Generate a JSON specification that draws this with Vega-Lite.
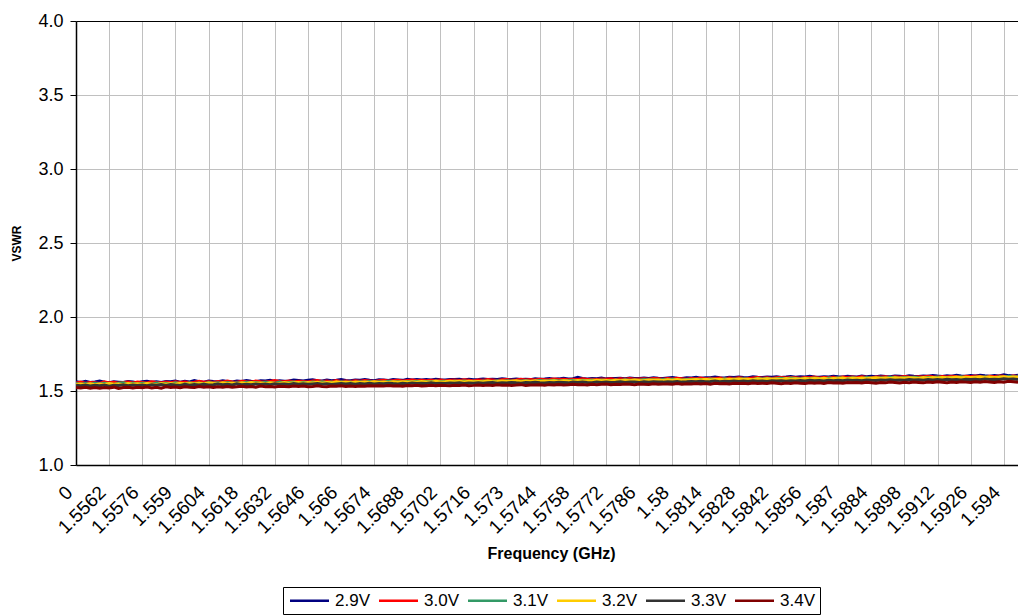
{
"$schema": "https://vega.github.io/schema/vega-lite/v6.json",
"width": 942,
"height": 444,
"autosize": "none",
"padding": {"left": 76, "top": 21, "right": 0, "bottom": 150},
"config": {"view": {"stroke": null}, "font": "Liberation Sans", "background": "white"},
"data": {"values": [
{"f":"0","a":1.562,"b":1.554,"c":1.550,"d":1.544,"e":1.539,"g":1.524},
{"f":"1.555","a":1.558,"b":1.560,"c":1.546,"d":1.547,"e":1.535,"g":1.520},
{"f":"1.5552","a":1.565,"b":1.553,"c":1.551,"d":1.543,"e":1.540,"g":1.525},
{"f":"1.5554","a":1.557,"b":1.558,"c":1.545,"d":1.549,"e":1.534,"g":1.519},
{"f":"1.5556","a":1.561,"b":1.556,"c":1.552,"d":1.542,"e":1.538,"g":1.523},
{"f":"1.5558","a":1.567,"b":1.551,"c":1.547,"d":1.548,"e":1.536,"g":1.518},
{"f":"1.556","a":1.559,"b":1.562,"c":1.553,"d":1.544,"e":1.541,"g":1.524},
{"f":"1.5562","a":1.556,"b":1.555,"c":1.549,"d":1.550,"e":1.533,"g":1.521},
{"f":"1.5564","a":1.563,"b":1.559,"c":1.544,"d":1.545,"e":1.539,"g":1.526},
{"f":"1.5566","a":1.560,"b":1.552,"c":1.552,"d":1.547,"e":1.537,"g":1.517},
{"f":"1.5568","a":1.557,"b":1.558,"c":1.555,"d":1.543,"e":1.542,"g":1.523},
{"f":"1.557","a":1.564,"b":1.561,"c":1.548,"d":1.551,"e":1.535,"g":1.526},
{"f":"1.5572","a":1.561,"b":1.555,"c":1.552,"d":1.546,"e":1.540,"g":1.520},
{"f":"1.5574","a":1.555,"b":1.560,"c":1.547,"d":1.549,"e":1.538,"g":1.525},
{"f":"1.5576","a":1.562,"b":1.557,"c":1.553,"d":1.544,"e":1.541,"g":1.522},
{"f":"1.5578","a":1.566,"b":1.554,"c":1.550,"d":1.550,"e":1.536,"g":1.527},
{"f":"1.558","a":1.560,"b":1.563,"c":1.546,"d":1.547,"e":1.542,"g":1.521},
{"f":"1.5582","a":1.563,"b":1.558,"c":1.554,"d":1.543,"e":1.539,"g":1.525},
{"f":"1.5584","a":1.558,"b":1.555,"c":1.549,"d":1.551,"e":1.544,"g":1.519},
{"f":"1.5586","a":1.564,"b":1.561,"c":1.553,"d":1.546,"e":1.537,"g":1.528},
{"f":"1.5588","a":1.562,"b":1.556,"c":1.548,"d":1.550,"e":1.543,"g":1.524},
{"f":"1.559","a":1.567,"b":1.563,"c":1.555,"d":1.546,"e":1.540,"g":1.527},
{"f":"1.5592","a":1.559,"b":1.558,"c":1.551,"d":1.553,"e":1.538,"g":1.522},
{"f":"1.5594","a":1.565,"b":1.561,"c":1.547,"d":1.548,"e":1.545,"g":1.529},
{"f":"1.5596","a":1.561,"b":1.557,"c":1.556,"d":1.551,"e":1.539,"g":1.525},
{"f":"1.5598","a":1.570,"b":1.560,"c":1.550,"d":1.547,"e":1.544,"g":1.523},
{"f":"1.56","a":1.563,"b":1.566,"c":1.554,"d":1.552,"e":1.541,"g":1.530},
{"f":"1.5602","a":1.560,"b":1.559,"c":1.549,"d":1.548,"e":1.546,"g":1.526},
{"f":"1.5604","a":1.568,"b":1.562,"c":1.557,"d":1.554,"e":1.540,"g":1.528},
{"f":"1.5606","a":1.564,"b":1.558,"c":1.552,"d":1.550,"e":1.543,"g":1.524},
{"f":"1.5608","a":1.562,"b":1.564,"c":1.555,"d":1.548,"e":1.547,"g":1.529},
{"f":"1.561","a":1.569,"b":1.560,"c":1.551,"d":1.555,"e":1.542,"g":1.526},
{"f":"1.5612","a":1.565,"b":1.567,"c":1.558,"d":1.550,"e":1.545,"g":1.531},
{"f":"1.5614","a":1.561,"b":1.561,"c":1.553,"d":1.553,"e":1.540,"g":1.525},
{"f":"1.5616","a":1.567,"b":1.559,"c":1.556,"d":1.549,"e":1.548,"g":1.528},
{"f":"1.5618","a":1.564,"b":1.566,"c":1.552,"d":1.555,"e":1.543,"g":1.532},
{"f":"1.562","a":1.571,"b":1.562,"c":1.559,"d":1.551,"e":1.546,"g":1.527},
{"f":"1.5622","a":1.566,"b":1.560,"c":1.554,"d":1.557,"e":1.542,"g":1.530},
{"f":"1.5624","a":1.563,"b":1.568,"c":1.557,"d":1.552,"e":1.548,"g":1.526},
{"f":"1.5626","a":1.569,"b":1.563,"c":1.553,"d":1.554,"e":1.544,"g":1.533},
{"f":"1.5628","a":1.567,"b":1.561,"c":1.559,"d":1.550,"e":1.547,"g":1.529},
{"f":"1.563","a":1.573,"b":1.565,"c":1.555,"d":1.556,"e":1.543,"g":1.531},
{"f":"1.5632","a":1.565,"b":1.570,"c":1.552,"d":1.553,"e":1.549,"g":1.527},
{"f":"1.5634","a":1.570,"b":1.564,"c":1.560,"d":1.551,"e":1.545,"g":1.532},
{"f":"1.5636","a":1.566,"b":1.562,"c":1.555,"d":1.557,"e":1.548,"g":1.530},
{"f":"1.5638","a":1.568,"b":1.567,"c":1.558,"d":1.553,"e":1.544,"g":1.528},
{"f":"1.564","a":1.575,"b":1.563,"c":1.561,"d":1.555,"e":1.550,"g":1.533},
{"f":"1.5642","a":1.571,"b":1.566,"c":1.556,"d":1.558,"e":1.546,"g":1.530},
{"f":"1.5644","a":1.567,"b":1.564,"c":1.559,"d":1.552,"e":1.549,"g":1.534},
{"f":"1.5646","a":1.573,"b":1.561,"c":1.555,"d":1.557,"e":1.545,"g":1.529},
{"f":"1.5648","a":1.576,"b":1.568,"c":1.560,"d":1.554,"e":1.548,"g":1.531},
{"f":"1.565","a":1.570,"b":1.571,"c":1.557,"d":1.559,"e":1.550,"g":1.535},
{"f":"1.5652","a":1.568,"b":1.565,"c":1.562,"d":1.553,"e":1.546,"g":1.530},
{"f":"1.5654","a":1.574,"b":1.567,"c":1.558,"d":1.557,"e":1.549,"g":1.528},
{"f":"1.5656","a":1.569,"b":1.563,"c":1.561,"d":1.555,"e":1.544,"g":1.533},
{"f":"1.5658","a":1.572,"b":1.570,"c":1.556,"d":1.562,"e":1.548,"g":1.532},
{"f":"1.566","a":1.577,"b":1.565,"c":1.563,"d":1.556,"e":1.551,"g":1.535},
{"f":"1.5662","a":1.571,"b":1.568,"c":1.559,"d":1.559,"e":1.547,"g":1.530},
{"f":"1.5664","a":1.569,"b":1.564,"c":1.561,"d":1.555,"e":1.550,"g":1.533},
{"f":"1.5666","a":1.575,"b":1.569,"c":1.558,"d":1.560,"e":1.546,"g":1.531},
{"f":"1.5668","a":1.573,"b":1.566,"c":1.562,"d":1.557,"e":1.550,"g":1.534},
{"f":"1.567","a":1.578,"b":1.571,"c":1.559,"d":1.561,"e":1.547,"g":1.532},
{"f":"1.5672","a":1.572,"b":1.568,"c":1.564,"d":1.558,"e":1.552,"g":1.536},
{"f":"1.5674","a":1.570,"b":1.565,"c":1.560,"d":1.562,"e":1.548,"g":1.533},
{"f":"1.5676","a":1.576,"b":1.570,"c":1.563,"d":1.557,"e":1.551,"g":1.535},
{"f":"1.5678","a":1.574,"b":1.572,"c":1.559,"d":1.561,"e":1.549,"g":1.533},
{"f":"1.568","a":1.571,"b":1.567,"c":1.565,"d":1.558,"e":1.553,"g":1.537},
{"f":"1.5682","a":1.577,"b":1.570,"c":1.561,"d":1.563,"e":1.550,"g":1.534},
{"f":"1.5684","a":1.575,"b":1.573,"c":1.563,"d":1.559,"e":1.548,"g":1.536},
{"f":"1.5686","a":1.572,"b":1.568,"c":1.560,"d":1.562,"e":1.552,"g":1.532},
{"f":"1.5688","a":1.580,"b":1.571,"c":1.564,"d":1.560,"e":1.549,"g":1.537},
{"f":"1.569","a":1.575,"b":1.574,"c":1.561,"d":1.563,"e":1.554,"g":1.535},
{"f":"1.5692","a":1.578,"b":1.569,"c":1.566,"d":1.559,"e":1.550,"g":1.538},
{"f":"1.5694","a":1.574,"b":1.572,"c":1.562,"d":1.564,"e":1.553,"g":1.534},
{"f":"1.5696","a":1.577,"b":1.570,"c":1.565,"d":1.561,"e":1.551,"g":1.536},
{"f":"1.5698","a":1.575,"b":1.573,"c":1.563,"d":1.560,"e":1.555,"g":1.538},
{"f":"1.57","a":1.579,"b":1.571,"c":1.567,"d":1.565,"e":1.551,"g":1.535},
{"f":"1.5702","a":1.576,"b":1.575,"c":1.564,"d":1.561,"e":1.553,"g":1.539},
{"f":"1.5704","a":1.574,"b":1.570,"c":1.566,"d":1.563,"e":1.550,"g":1.537},
{"f":"1.5706","a":1.578,"b":1.572,"c":1.562,"d":1.566,"e":1.554,"g":1.536},
{"f":"1.5708","a":1.577,"b":1.574,"c":1.567,"d":1.562,"e":1.552,"g":1.539},
{"f":"1.571","a":1.580,"b":1.571,"c":1.564,"d":1.565,"e":1.555,"g":1.537},
{"f":"1.5712","a":1.575,"b":1.576,"c":1.568,"d":1.561,"e":1.551,"g":1.540},
{"f":"1.5714","a":1.579,"b":1.573,"c":1.565,"d":1.566,"e":1.554,"g":1.536},
{"f":"1.5716","a":1.576,"b":1.570,"c":1.566,"d":1.563,"e":1.553,"g":1.538},
{"f":"1.5718","a":1.578,"b":1.575,"c":1.563,"d":1.564,"e":1.556,"g":1.541},
{"f":"1.572","a":1.581,"b":1.572,"c":1.568,"d":1.562,"e":1.552,"g":1.538},
{"f":"1.5722","a":1.577,"b":1.577,"c":1.566,"d":1.567,"e":1.555,"g":1.540},
{"f":"1.5724","a":1.580,"b":1.574,"c":1.564,"d":1.563,"e":1.557,"g":1.537},
{"f":"1.5726","a":1.578,"b":1.571,"c":1.569,"d":1.565,"e":1.553,"g":1.542},
{"f":"1.5728","a":1.582,"b":1.576,"c":1.565,"d":1.568,"e":1.556,"g":1.539},
{"f":"1.573","a":1.579,"b":1.578,"c":1.570,"d":1.564,"e":1.554,"g":1.541},
{"f":"1.5732","a":1.577,"b":1.573,"c":1.567,"d":1.566,"e":1.558,"g":1.538},
{"f":"1.5734","a":1.581,"b":1.575,"c":1.564,"d":1.569,"e":1.555,"g":1.540},
{"f":"1.5736","a":1.578,"b":1.579,"c":1.568,"d":1.563,"e":1.553,"g":1.543},
{"f":"1.5738","a":1.580,"b":1.574,"c":1.570,"d":1.567,"e":1.557,"g":1.538},
{"f":"1.574","a":1.577,"b":1.577,"c":1.566,"d":1.565,"e":1.555,"g":1.541},
{"f":"1.5742","a":1.583,"b":1.575,"c":1.568,"d":1.569,"e":1.559,"g":1.540},
{"f":"1.5744","a":1.579,"b":1.580,"c":1.571,"d":1.564,"e":1.556,"g":1.542},
{"f":"1.5746","a":1.581,"b":1.576,"c":1.567,"d":1.568,"e":1.554,"g":1.539},
{"f":"1.5748","a":1.584,"b":1.578,"c":1.570,"d":1.566,"e":1.558,"g":1.543},
{"f":"1.575","a":1.580,"b":1.581,"c":1.572,"d":1.569,"e":1.556,"g":1.541},
{"f":"1.5752","a":1.582,"b":1.577,"c":1.568,"d":1.565,"e":1.559,"g":1.544},
{"f":"1.5754","a":1.586,"b":1.579,"c":1.571,"d":1.570,"e":1.557,"g":1.540},
{"f":"1.5756","a":1.581,"b":1.576,"c":1.569,"d":1.567,"e":1.555,"g":1.542},
{"f":"1.5758","a":1.583,"b":1.580,"c":1.573,"d":1.566,"e":1.560,"g":1.545},
{"f":"1.576","a":1.592,"b":1.578,"c":1.570,"d":1.571,"e":1.557,"g":1.542},
{"f":"1.5762","a":1.584,"b":1.582,"c":1.572,"d":1.568,"e":1.561,"g":1.544},
{"f":"1.5764","a":1.581,"b":1.577,"c":1.569,"d":1.570,"e":1.558,"g":1.541},
{"f":"1.5766","a":1.585,"b":1.580,"c":1.574,"d":1.567,"e":1.556,"g":1.546},
{"f":"1.5768","a":1.583,"b":1.578,"c":1.571,"d":1.572,"e":1.560,"g":1.543},
{"f":"1.577","a":1.587,"b":1.581,"c":1.575,"d":1.569,"e":1.558,"g":1.545},
{"f":"1.5772","a":1.582,"b":1.579,"c":1.572,"d":1.571,"e":1.561,"g":1.547},
{"f":"1.5774","a":1.585,"b":1.583,"c":1.570,"d":1.568,"e":1.557,"g":1.542},
{"f":"1.5776","a":1.584,"b":1.578,"c":1.574,"d":1.573,"e":1.559,"g":1.546},
{"f":"1.5778","a":1.586,"b":1.582,"c":1.571,"d":1.570,"e":1.562,"g":1.544},
{"f":"1.578","a":1.583,"b":1.580,"c":1.576,"d":1.572,"e":1.558,"g":1.547},
{"f":"1.5782","a":1.588,"b":1.584,"c":1.573,"d":1.569,"e":1.561,"g":1.545},
{"f":"1.5784","a":1.585,"b":1.579,"c":1.575,"d":1.574,"e":1.560,"g":1.543},
{"f":"1.5786","a":1.584,"b":1.581,"c":1.572,"d":1.571,"e":1.557,"g":1.548},
{"f":"1.5788","a":1.587,"b":1.583,"c":1.577,"d":1.570,"e":1.562,"g":1.546},
{"f":"1.579","a":1.585,"b":1.580,"c":1.574,"d":1.575,"e":1.559,"g":1.544},
{"f":"1.5792","a":1.589,"b":1.585,"c":1.576,"d":1.572,"e":1.563,"g":1.549},
{"f":"1.5794","a":1.586,"b":1.582,"c":1.573,"d":1.574,"e":1.561,"g":1.545},
{"f":"1.5796","a":1.584,"b":1.579,"c":1.578,"d":1.571,"e":1.560,"g":1.547},
{"f":"1.5798","a":1.588,"b":1.584,"c":1.575,"d":1.576,"e":1.563,"g":1.548},
{"f":"1.58","a":1.591,"b":1.581,"c":1.579,"d":1.573,"e":1.561,"g":1.546},
{"f":"1.5802","a":1.587,"b":1.586,"c":1.576,"d":1.577,"e":1.564,"g":1.550},
{"f":"1.5804","a":1.585,"b":1.583,"c":1.574,"d":1.572,"e":1.560,"g":1.545},
{"f":"1.5806","a":1.590,"b":1.580,"c":1.578,"d":1.575,"e":1.562,"g":1.549},
{"f":"1.5808","a":1.588,"b":1.585,"c":1.577,"d":1.574,"e":1.565,"g":1.547},
{"f":"1.581","a":1.592,"b":1.583,"c":1.580,"d":1.578,"e":1.563,"g":1.551},
{"f":"1.5812","a":1.587,"b":1.587,"c":1.578,"d":1.575,"e":1.566,"g":1.548},
{"f":"1.5814","a":1.590,"b":1.582,"c":1.576,"d":1.579,"e":1.562,"g":1.550},
{"f":"1.5816","a":1.589,"b":1.586,"c":1.581,"d":1.574,"e":1.564,"g":1.546},
{"f":"1.5818","a":1.594,"b":1.584,"c":1.579,"d":1.577,"e":1.567,"g":1.552},
{"f":"1.582","a":1.590,"b":1.588,"c":1.576,"d":1.580,"e":1.563,"g":1.549},
{"f":"1.5822","a":1.588,"b":1.583,"c":1.582,"d":1.575,"e":1.566,"g":1.551},
{"f":"1.5824","a":1.593,"b":1.587,"c":1.578,"d":1.579,"e":1.564,"g":1.547},
{"f":"1.5826","a":1.591,"b":1.585,"c":1.581,"d":1.576,"e":1.568,"g":1.553},
{"f":"1.5828","a":1.595,"b":1.589,"c":1.579,"d":1.581,"e":1.565,"g":1.550},
{"f":"1.583","a":1.592,"b":1.586,"c":1.583,"d":1.577,"e":1.567,"g":1.552},
{"f":"1.5832","a":1.590,"b":1.584,"c":1.580,"d":1.580,"e":1.564,"g":1.549},
{"f":"1.5834","a":1.596,"b":1.588,"c":1.578,"d":1.576,"e":1.569,"g":1.554},
{"f":"1.5836","a":1.593,"b":1.591,"c":1.584,"d":1.582,"e":1.566,"g":1.551},
{"f":"1.5838","a":1.591,"b":1.587,"c":1.581,"d":1.578,"e":1.568,"g":1.553},
{"f":"1.584","a":1.595,"b":1.590,"c":1.585,"d":1.583,"e":1.565,"g":1.550},
{"f":"1.5842","a":1.593,"b":1.585,"c":1.580,"d":1.579,"e":1.570,"g":1.555},
{"f":"1.5844","a":1.597,"b":1.589,"c":1.583,"d":1.581,"e":1.567,"g":1.552},
{"f":"1.5846","a":1.592,"b":1.592,"c":1.586,"d":1.577,"e":1.569,"g":1.549},
{"f":"1.5848","a":1.594,"b":1.588,"c":1.582,"d":1.584,"e":1.566,"g":1.554},
{"f":"1.585","a":1.598,"b":1.591,"c":1.587,"d":1.579,"e":1.570,"g":1.551},
{"f":"1.5852","a":1.593,"b":1.589,"c":1.584,"d":1.582,"e":1.568,"g":1.555},
{"f":"1.5854","a":1.596,"b":1.587,"c":1.581,"d":1.580,"e":1.571,"g":1.552},
{"f":"1.5856","a":1.594,"b":1.592,"c":1.586,"d":1.585,"e":1.567,"g":1.550},
{"f":"1.5858","a":1.599,"b":1.590,"c":1.583,"d":1.581,"e":1.572,"g":1.556},
{"f":"1.586","a":1.595,"b":1.594,"c":1.588,"d":1.584,"e":1.569,"g":1.553},
{"f":"1.5862","a":1.593,"b":1.588,"c":1.585,"d":1.582,"e":1.571,"g":1.555},
{"f":"1.5864","a":1.597,"b":1.591,"c":1.582,"d":1.586,"e":1.568,"g":1.551},
{"f":"1.5866","a":1.595,"b":1.589,"c":1.587,"d":1.580,"e":1.573,"g":1.557},
{"f":"1.5868","a":1.600,"b":1.593,"c":1.584,"d":1.585,"e":1.570,"g":1.554},
{"f":"1.587","a":1.596,"b":1.590,"c":1.589,"d":1.583,"e":1.572,"g":1.556},
{"f":"1.5872","a":1.594,"b":1.595,"c":1.586,"d":1.587,"e":1.569,"g":1.552},
{"f":"1.5874","a":1.599,"b":1.591,"c":1.584,"d":1.582,"e":1.574,"g":1.558},
{"f":"1.5876","a":1.597,"b":1.594,"c":1.590,"d":1.586,"e":1.571,"g":1.555},
{"f":"1.5878","a":1.595,"b":1.592,"c":1.587,"d":1.584,"e":1.573,"g":1.557},
{"f":"1.588","a":1.601,"b":1.596,"c":1.585,"d":1.588,"e":1.570,"g":1.554},
{"f":"1.5882","a":1.597,"b":1.593,"c":1.591,"d":1.583,"e":1.575,"g":1.559},
{"f":"1.5884","a":1.600,"b":1.590,"c":1.588,"d":1.586,"e":1.572,"g":1.556},
{"f":"1.5886","a":1.596,"b":1.595,"c":1.586,"d":1.589,"e":1.571,"g":1.553},
{"f":"1.5888","a":1.602,"b":1.594,"c":1.590,"d":1.585,"e":1.574,"g":1.558},
{"f":"1.589","a":1.598,"b":1.597,"c":1.587,"d":1.588,"e":1.572,"g":1.555},
{"f":"1.5892","a":1.596,"b":1.592,"c":1.592,"d":1.584,"e":1.576,"g":1.560},
{"f":"1.5894","a":1.601,"b":1.596,"c":1.589,"d":1.590,"e":1.573,"g":1.557},
{"f":"1.5896","a":1.599,"b":1.593,"c":1.586,"d":1.587,"e":1.575,"g":1.554},
{"f":"1.5898","a":1.597,"b":1.598,"c":1.591,"d":1.586,"e":1.573,"g":1.559},
{"f":"1.59","a":1.603,"b":1.595,"c":1.588,"d":1.590,"e":1.577,"g":1.556},
{"f":"1.5902","a":1.600,"b":1.593,"c":1.593,"d":1.588,"e":1.574,"g":1.561},
{"f":"1.5904","a":1.598,"b":1.597,"c":1.590,"d":1.585,"e":1.576,"g":1.558},
{"f":"1.5906","a":1.602,"b":1.594,"c":1.587,"d":1.591,"e":1.573,"g":1.555},
{"f":"1.5908","a":1.599,"b":1.599,"c":1.592,"d":1.587,"e":1.578,"g":1.560},
{"f":"1.591","a":1.605,"b":1.596,"c":1.589,"d":1.591,"e":1.575,"g":1.557},
{"f":"1.5912","a":1.601,"b":1.594,"c":1.594,"d":1.588,"e":1.577,"g":1.562},
{"f":"1.5914","a":1.598,"b":1.598,"c":1.591,"d":1.592,"e":1.574,"g":1.559},
{"f":"1.5916","a":1.603,"b":1.595,"c":1.588,"d":1.589,"e":1.579,"g":1.556},
{"f":"1.5918","a":1.600,"b":1.600,"c":1.593,"d":1.590,"e":1.576,"g":1.561},
{"f":"1.592","a":1.606,"b":1.597,"c":1.590,"d":1.594,"e":1.578,"g":1.558},
{"f":"1.5922","a":1.602,"b":1.595,"c":1.596,"d":1.589,"e":1.575,"g":1.563},
{"f":"1.5924","a":1.599,"b":1.599,"c":1.592,"d":1.593,"e":1.580,"g":1.560},
{"f":"1.5926","a":1.604,"b":1.596,"c":1.589,"d":1.591,"e":1.577,"g":1.557},
{"f":"1.5928","a":1.601,"b":1.601,"c":1.595,"d":1.592,"e":1.579,"g":1.562},
{"f":"1.593","a":1.607,"b":1.598,"c":1.591,"d":1.596,"e":1.576,"g":1.559},
{"f":"1.5932","a":1.603,"b":1.596,"c":1.597,"d":1.590,"e":1.581,"g":1.564},
{"f":"1.5934","a":1.600,"b":1.600,"c":1.593,"d":1.594,"e":1.578,"g":1.561},
{"f":"1.5936","a":1.605,"b":1.597,"c":1.590,"d":1.592,"e":1.580,"g":1.558},
{"f":"1.5938","a":1.602,"b":1.602,"c":1.596,"d":1.593,"e":1.577,"g":1.563},
{"f":"1.594","a":1.610,"b":1.599,"c":1.592,"d":1.597,"e":1.582,"g":1.560},
{"f":"1.5942","a":1.604,"b":1.597,"c":1.599,"d":1.591,"e":1.579,"g":1.565},
{"f":"1.5944","a":1.601,"b":1.601,"c":1.594,"d":1.595,"e":1.581,"g":1.562},
{"f":"1.5946","a":1.606,"b":1.598,"c":1.597,"d":1.593,"e":1.578,"g":1.559}
]},
"transform": [{"fold": ["a","b","c","d","e","g"], "as": ["s","v"]}],
"mark": {"type": "line", "strokeWidth": 3, "clip": true},
"encoding": {
  "x": {
    "field": "f", "type": "ordinal", "sort": null,
    "scale": {"type": "point", "padding": 0},
    "axis": {
      "labelExpr": "indexof(['0','1.5562','1.5576','1.559','1.5604','1.5618','1.5632','1.5646','1.566','1.5674','1.5688','1.5702','1.5716','1.573','1.5744','1.5758','1.5772','1.5786','1.58','1.5814','1.5828','1.5842','1.5856','1.587','1.5884','1.5898','1.5912','1.5926','1.594'], datum.value) >= 0 ? datum.value : ''",
      "gridOpacity": {"condition": {"test": "indexof(['0','1.5562','1.5576','1.559','1.5604','1.5618','1.5632','1.5646','1.566','1.5674','1.5688','1.5702','1.5716','1.573','1.5744','1.5758','1.5772','1.5786','1.58','1.5814','1.5828','1.5842','1.5856','1.587','1.5884','1.5898','1.5912','1.5926','1.594'], datum.value) >= 0", "value": 1}, "value": 0},
      "labelAngle": -45, "labelAlign": "right", "labelBaseline": "middle",
      "labelFontSize": 19, "labelColor": "black", "labelPadding": 24, "labelOffset": -7,
      "labelOverlap": false, "labelFont": "Liberation Sans",
      "ticks": false, "grid": true, "gridColor": "#c0c0c0", "gridWidth": 1,
      "domainColor": "black", "domainWidth": 1.5,
      "title": "Frequency (GHz)", "titleFontSize": 16, "titleFontWeight": "bold", "titleColor": "black",
      "titleBaseline": "middle", "titleY": 88, "titleX": 475
    }
  },
  "y": {
    "field": "v", "type": "quantitative",
    "scale": {"domain": [1, 4], "nice": false, "zero": false},
    "axis": {
      "values": [1, 1.5, 2, 2.5, 3, 3.5, 4], "format": ".1f",
      "labelFontSize": 18, "labelColor": "black", "labelPadding": 7,
      "tickSize": 6, "tickColor": "black",
      "domainColor": "black", "domainWidth": 1.5,
      "grid": true, "gridColor": {"condition": {"test": "datum.value === 4", "value": "black"}, "value": "#c0c0c0"},
      "title": "VSWR", "titleFontSize": 12, "titleFontWeight": "bold", "titleColor": "black",
      "titleX": -53
    }
  },
  "color": {
    "field": "s", "type": "nominal",
    "scale": {"domain": ["a","b","c","d","e","g"], "range": ["#000080","#ff0000","#339966","#ffcc00","#333333","#800000"]},
    "legend": {
      "orient": "none", "legendX": 207, "legendY": 566, "direction": "horizontal",
      "title": null, "strokeColor": "black", "padding": 5,
      "symbolType": "M-1,0H5", "symbolSize": 169, "symbolStrokeWidth": 2.5, "symbolFillColor": "transparent",
      "labelFontSize": 17, "labelColor": "black", "labelOffset": 30, "columnPadding": 4,
      "labelExpr": "{'a':'2.9V','b':'3.0V','c':'3.1V','d':'3.2V','e':'3.3V','g':'3.4V'}[datum.label]"
    }
  }
}
}
